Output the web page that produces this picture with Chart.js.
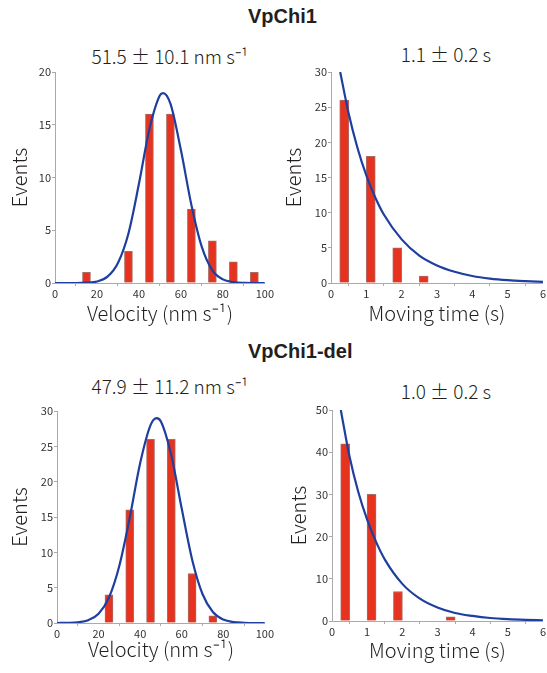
<!DOCTYPE html>
<html>
<head>
<meta charset="utf-8">
<script src="https://cdn.jsdelivr.net/npm/chart.js@4"></script>
<style>
    body { margin: 0; background: #fff; width: 547px; height: 673px; position: relative; overflow: hidden; }
    canvas { position: absolute; }
    .head { position: absolute; font: bold 20px "Liberation Sans", Arial, sans-serif; color: #231f20; white-space: nowrap; }
    .sub { position: absolute; font: 300 19px "Noto Sans CJK JP", sans-serif; color: #231f20; text-align: center; white-space: nowrap; }
</style>
</head>
<body>
<div class="head" style="left:248px; top:5px;">VpChi1</div>
<div class="head" style="left:248px; top:340px;">VpChi1-del</div>
<div class="sub" style="left:70px; width:200px; top:42px;">51.5 ± 10.1 nm s⁻¹</div>
<div class="sub" style="left:346px; width:200px; top:40px;">1.1 ± 0.2 s</div>
<div class="sub" style="left:70px; width:200px; top:372px;">47.9 ± 11.2 nm s⁻¹</div>
<div class="sub" style="left:346px; width:200px; top:377px;">1.0 ± 0.2 s</div>

<canvas id="velChart1" width="275" height="273" style="left:0px; top:62px;"></canvas>
<canvas id="timeChart1" width="271" height="273" style="left:276px; top:62px;"></canvas>
<canvas id="velChart2" width="275" height="272" style="left:0px; top:401px;"></canvas>
<canvas id="timeChart2" width="271" height="273" style="left:276px; top:400px;"></canvas>

<script>
// VpChi1 velocity histogram + gaussian fit
const velBins1 = [15, 35, 45, 55, 65, 75, 85, 95];
const velCounts1 = [1, 3, 16, 16, 7, 4, 2, 1];
const velFitX1 = [0, 5, 10, 15, 20, 25, 30, 35, 40, 45, 50, 51.5, 55, 60, 65, 70, 75, 80, 85, 90, 95, 100];
const velFitY1 = [0, 0, 0, 0.03, 0.14, 0.6, 1.9, 4.7, 9.4, 14.6, 17.8, 18, 17, 12.6, 7.4, 3.4, 1.2, 0.34, 0.08, 0.01, 0, 0];

// VpChi1 moving time histogram + exponential fit
const timeBins1 = [0.375, 1.125, 1.875, 2.625];
const timeCounts1 = [26, 18, 5, 1];
const timeFitX1 = [0.26, 0.5, 0.75, 1, 1.25, 1.5, 2, 2.5, 3, 3.5, 4, 4.5, 5, 5.5, 6];
const timeFitY1 = [30, 24.1, 19.2, 15.3, 12.2, 9.7, 6.2, 3.9, 2.5, 1.6, 1.0, 0.63, 0.4, 0.26, 0.16];

// VpChi1-del velocity
const velBins2 = [25, 35, 45, 55, 65, 75];
const velCounts2 = [4, 16, 26, 26, 7, 1];
const velFitX2 = [0, 5, 10, 15, 20, 25, 30, 35, 40, 45, 47.9, 50, 55, 60, 65, 70, 75, 80, 85, 90, 95, 100];
const velFitY2 = [0, 0.02, 0.1, 0.4, 1.3, 3.6, 8.1, 14.9, 22.6, 28.0, 29, 28.5, 23.7, 16.2, 9.0, 4.1, 1.55, 0.48, 0.12, 0.03, 0, 0];

// VpChi1-del moving time
const timeBins2 = [0.375, 1.125, 1.875, 3.375];
const timeCounts2 = [42, 30, 7, 1];
const timeFitX2 = [0.25, 0.5, 0.75, 1, 1.25, 1.5, 2, 2.5, 3, 3.5, 4, 4.5, 5, 5.5, 6];
const timeFitY2 = [50, 38.9, 30.5, 24, 18.8, 14.6, 8.8, 5.3, 3.2, 1.9, 1.2, 0.71, 0.43, 0.26, 0.16];

const textFont = '"Noto Sans CJK JP", sans-serif';
const barRed = '#e6331f';
const fitBlue = '#1f3f9f';

function toPoints(xs, ys) {
    return xs.map((x, i) => ({ x: x, y: ys[i] }));
}

function makeHistogram(id, opts) {
    const ctx = document.getElementById(id);
    return new Chart(ctx, {
        type: 'bar',
        data: {
            datasets: [{
                type: 'line',
                data: toPoints(opts.fitX, opts.fitY),
                borderColor: fitBlue,
                borderWidth: 2.2,
                pointRadius: 0,
                fill: false,
                cubicInterpolationMode: 'monotone',
                order: 0
            }, {
                type: 'bar',
                data: toPoints(opts.bins, opts.counts),
                backgroundColor: barRed,
                borderColor: 'rgba(150, 70, 60, 0.8)',
                borderWidth: 1,
                borderSkipped: 'bottom',
                barThickness: opts.barWidth,
                order: 1
            }]
        },
        options: {
            responsive: false,
            animation: false,
            devicePixelRatio: 1,
            layout: { padding: { left: 0, top: 10, right: opts.padRight, bottom: 0 } },
            plugins: { legend: { display: false }, tooltip: { enabled: false } },
            scales: {
                x: {
                    type: 'linear',
                    offset: false,
                    min: 0,
                    max: opts.xMax,
                    ticks: { stepSize: opts.xStep, padding: 1, color: '#333', font: { family: textFont, size: 11 } },
                    grid: { drawOnChartArea: false, drawTicks: true, tickLength: 3, color: '#aaa' },
                    border: { display: true, color: '#aaa', width: 1 },
                    title: { display: true, text: opts.xTitle, color: '#231f20', font: { family: textFont, size: 20, weight: '300' }, padding: { top: 0, bottom: opts.xTitlePad } },
                    afterFit: function(scale) { scale.height = opts.xHeight; }
                },
                y: {
                    min: 0,
                    max: opts.yMax,
                    ticks: { stepSize: opts.yStep, padding: 1, color: '#333', font: { family: textFont, size: 11 } },
                    grid: { drawOnChartArea: false, drawTicks: true, tickLength: 3, color: '#aaa' },
                    border: { display: true, color: '#aaa', width: 1 },
                    title: { display: true, text: 'Events', color: '#231f20', font: { family: textFont, size: 20, weight: '300' }, padding: { top: opts.yTitlePad, bottom: 0 } },
                    afterFit: function(scale) { scale.width = opts.yWidth; }
                }
            }
        }
    });
}

makeHistogram('velChart1', {
    bins: velBins1, counts: velCounts1, fitX: velFitX1, fitY: velFitY1,
    xMax: 100, xStep: 20, yMax: 20, yStep: 5, barWidth: 8,
    xTitle: 'Velocity (nm s⁻¹)', padRight: 8, yWidth: 55, xHeight: 52, xTitlePad: 10, yTitlePad: 7
});
makeHistogram('timeChart1', {
    bins: timeBins1, counts: timeCounts1, fitX: timeFitX1, fitY: timeFitY1,
    xMax: 6, xStep: 1, yMax: 30, yStep: 5, barWidth: 9,
    xTitle: 'Moving time (s)', padRight: 4, yWidth: 55, xHeight: 52, xTitlePad: 10, yTitlePad: 5
});
makeHistogram('velChart2', {
    bins: velBins2, counts: velCounts2, fitX: velFitX2, fitY: velFitY2,
    xMax: 100, xStep: 20, yMax: 30, yStep: 5, barWidth: 8,
    xTitle: 'Velocity (nm s⁻¹)', padRight: 6, yWidth: 57, xHeight: 50, xTitlePad: 12, yTitlePad: 7
});
makeHistogram('timeChart2', {
    bins: timeBins2, counts: timeCounts2, fitX: timeFitX2, fitY: timeFitY2,
    xMax: 6, xStep: 1, yMax: 50, yStep: 10, barWidth: 9,
    xTitle: 'Moving time (s)', padRight: 3, yWidth: 56, xHeight: 52, xTitlePad: 11, yTitlePad: 10
});
</script>
</body>
</html>
